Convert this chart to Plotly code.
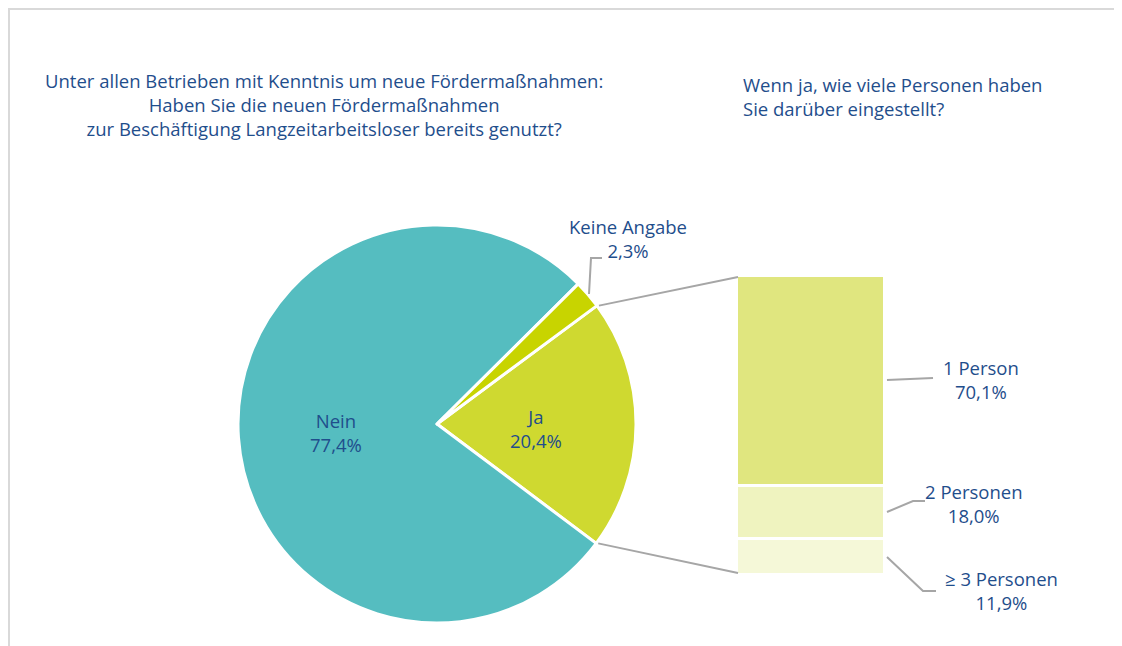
import math
import plotly.graph_objects as go

# ---- data ----
pie_labels = ["Ja", "Nein", "Keine Angabe"]
pie_values = [20.4, 77.4, 2.3]
pie_colors = ["#CFD930", "#55BDC0", "#C8D400"]

bar_labels = ["≥ 3 Personen", "2 Personen", "1 Person"]
bar_values = [11.9, 18.0, 70.1]
bar_colors = ["#F5F8D8", "#EFF3BF", "#E0E67F"]

title_left = ["Unter allen Betrieben mit Kenntnis um neue Fördermaßnahmen:",
              "Haben Sie die neuen Fördermaßnahmen",
              "zur Beschäftigung Langzeitarbeitsloser bereits genutzt?"]
title_right = ["Wenn ja, wie viele Personen haben", "Sie darüber eingestellt?"]

W, H = 1122, 646
OFF = 8  # page body margin
TXT = "#1F4E8C"
FONT = "Open Sans"
LINE = "#A6A6A6"
FS = 18.5

def fmt(v):
    return f"{v:.1f}".replace(".", ",") + "%"

def px(x, y):
    return (x - OFF) / W, (H - (y - OFF)) / H

# pie geometry (screen pixels)
cx, cy, r = 437, 424, 199
ja_start = 90 - 36.5  # clock angle where "Ja" slice starts

(dx0, dy1), (dx1, dy0) = px(cx - r, cy - r), px(cx + r, cy + r)
fig = go.Figure()
fig.add_trace(go.Pie(
    labels=pie_labels, values=pie_values, sort=False, direction="clockwise",
    rotation=ja_start, marker=dict(colors=pie_colors, line=dict(color="white", width=3)),
    textinfo="none", hoverinfo="label+percent", showlegend=False,
    domain=dict(x=[dx0, dx1], y=[dy0, dy1]),
))

bx0, bx1, by_top, by_bot = 737, 885, 276, 575
for lab, val, col in zip(bar_labels, bar_values, bar_colors):
    fig.add_trace(go.Bar(x=[0], y=[val], name=lab, marker=dict(color=col, line=dict(color="white", width=3)),
                         width=1, showlegend=False, xaxis="x", yaxis="y"))

(ax0, ay1), (ax1, ay0) = px(bx0, by_top), px(bx1, by_bot)
fig.update_layout(
    width=W, height=H, margin=dict(l=0, r=0, t=0, b=0),
    paper_bgcolor="white", plot_bgcolor="rgba(0,0,0,0)", barmode="stack", bargap=0,
    xaxis=dict(domain=[ax0, ax1], range=[-0.5, 0.5], visible=False, fixedrange=True),
    yaxis=dict(domain=[ay0, ay1], range=[0, sum(bar_values)], visible=False, fixedrange=True),
    font=dict(family=FONT, color=TXT, size=FS),
)

shapes = []
# outer frame
fx, fy = px(8, 8)
shapes.append(dict(type="rect", xref="paper", yref="paper", x0=fx + 1 / W, x1=1.05, y0=-0.05, y1=fy - 1 / H,
                   line=dict(color="#D9D9D9", width=2), fillcolor="rgba(0,0,0,0)", layer="below"))

# connector lines from "Ja" slice edges to bar corners
total = sum(pie_values)
a_start = math.radians(ja_start)
a_end = math.radians(ja_start + pie_values[0] / total * 360)
for ang, yb in [(a_start, 277), (a_end, 573)]:
    x0 = cx + r * math.sin(ang)
    y0 = cy - r * math.cos(ang)
    X0, Y0 = px(x0 + 2, y0)
    X1, Y1 = px(738, yb)
    shapes.append(dict(type="line", xref="paper", yref="paper", x0=X0, y0=Y0, x1=X1, y1=Y1,
                       line=dict(color=LINE, width=2)))

def poly(points):
    d = ""
    for i, (x, y) in enumerate(points):
        X, Y = px(x, y)
        d += ("M" if i == 0 else "L") + f"{X},{Y} "
    return dict(type="path", xref="paper", yref="paper", path=d.strip(), line=dict(color=LINE, width=2))

shapes.append(poly([(589, 294), (591, 258), (602, 258)]))
shapes.append(poly([(887, 380), (933, 378)]))
shapes.append(poly([(887, 512), (913, 501), (925, 501)]))
shapes.append(poly([(887, 557), (923, 591), (936, 591)]))
fig.update_layout(shapes=shapes)

ann = []
def label(x, y, text, align="center", xanchor="center", size=FS):
    X, Y = px(x, y)
    ann.append(dict(x=X, y=Y, xref="paper", yref="paper", text=text, showarrow=False,
                    xanchor=xanchor, yanchor="middle", align=align, font=dict(size=size, color=TXT, family=FONT)))

label(324, 105, "<br>".join(title_left))
label(741, 96, "<br>".join(title_right), align="left", xanchor="left")

label(336, 432, f"{pie_labels[1]}<br>{fmt(pie_values[1])}")
label(536, 428, f"{pie_labels[0]}<br>{fmt(pie_values[0])}")
label(628, 238, f"{pie_labels[2]}<br>{fmt(pie_values[2])}")
label(981, 379, f"{bar_labels[2]}<br>{fmt(bar_values[2])}")
label(974, 503, f"{bar_labels[1]}<br>{fmt(bar_values[1])}")
label(1001, 590, f"{bar_labels[0]}<br>{fmt(bar_values[0])}")
fig.update_layout(annotations=ann)

fig.write_html("out.html")
